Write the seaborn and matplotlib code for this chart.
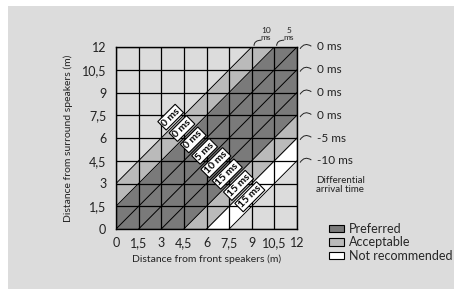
import numpy as np
import matplotlib
matplotlib.use("Agg")
import matplotlib.pyplot as plt
from matplotlib.patches import Rectangle, Patch, PathPatch
from matplotlib.path import Path
import seaborn as sns

# Grid positions (m) and tick labels (comma decimals)
ticks = [0, 1.5, 3, 4.5, 6, 7.5, 9, 10.5, 12]
tick_labels = ["0", "1,5", "3", "4,5", "6", "7,5", "9", "10,5", "12"]

# Diagonal bands: offset (surround - front, m) ranges
band_names = ["Not recommended", "Acceptable", "Preferred", "Acceptable"]
band_low = [-7.5, -6.0, -4.5, 1.5]
band_high = [-6.0, -4.5, 1.5, 3.0]

# Diagonal lines drawn inside the shaded area (offset in m)
diag_offsets = [-7.5, -6.0, -4.5, -3.0, -1.5, 0.0, 1.5, 3.0]

# Boxed delay labels along the diagonals (strip centre offset in cells)
inner_labels = ["0 ms", "0 ms", "0 ms", "5 ms", "10 ms", "15 ms", "15 ms", "15 ms"]
inner_strip = [2.5, 1.5, 0.5, -0.5, -1.5, -2.5, -3.5, -4.5]

# Right-hand differential arrival labels at these y rows
right_labels = ["0 ms", "0 ms", "0 ms", "0 ms", "-5 ms", "-10 ms"]
right_rows = [12, 10.5, 9, 7.5, 6, 4.5]

# Top labels at these x columns
top_labels = ["10\nms", "5\nms"]
top_cols = [9, 10.5]

colors = {"Preferred": "#7a7a7a", "Acceptable": "#bababa", "Not recommended": "#ffffff"}
panel_bg = "#dcdcdc"

sns.set_theme(style="white")
plt.rcParams["font.family"] = ["Lato", "DejaVu Sans"]

fig = plt.figure(figsize=(4.59, 2.90), dpi=100)
fig.patch.set_facecolor("white")
fig.add_artist(Rectangle((8 / 459, 1 / 290), 446 / 459, 283 / 290,
                         transform=fig.transFigure, facecolor=panel_bg,
                         edgecolor="none", zorder=0))

ax = fig.add_axes([116 / 459, 61 / 290, 181 / 459, 182 / 290])
ax.set_facecolor(panel_bg)

# Bands
xs = np.array([-2.0, 14.0])
for name, lo, hi in zip(band_names, band_low, band_high):
    ax.fill_between(xs, xs + lo, xs + hi, color=colors[name], lw=0, zorder=1)

# Diagonal lines
for off in diag_offsets:
    ax.axline((0, off), slope=1, color="black", lw=0.7, zorder=2)

ax.set_xlim(0, 12)
ax.set_ylim(0, 12)
ax.set_xticks(ticks)
ax.set_yticks(ticks)
ax.set_xticklabels(tick_labels, fontsize=9)
ax.set_yticklabels(tick_labels, fontsize=9)
ax.tick_params(axis="both", length=0, colors="#222222")
ax.tick_params(axis="x", pad=6)
ax.tick_params(axis="y", pad=7)
ax.grid(True, color="black", lw=0.9)
ax.set_axisbelow(False)
for sp in ax.spines.values():
    sp.set_visible(True)
    sp.set_color("black")
    sp.set_linewidth(1.0)

ax.set_xlabel("Distance from front speakers (m)", fontsize=7.5, labelpad=4, color="#222222")
ax.set_ylabel("Distance from surround speakers (m)", fontsize=7.5, labelpad=6, color="#222222")

# Boxed labels
s = 5.5
for txt, k in zip(inner_labels, inner_strip):
    d = k * 1.5
    ax.text(s - d / 2, s + d / 2, txt, rotation=45, rotation_mode="anchor",
            ha="center", va="center", fontsize=7.5, fontweight="bold", color="black",
            bbox=dict(boxstyle="square,pad=0.14", fc="white", ec="black", lw=0.8),
            zorder=4)

# Right labels with small arcs
for txt, yv in zip(right_labels, right_rows):
    verts = [(12.2, yv - 0.12), (12.5, yv + 0.35), (12.95, yv + 0.05)]
    ax.add_patch(PathPatch(Path(verts, [Path.MOVETO, Path.CURVE3, Path.CURVE3]),
                           fc="none", ec="#222222", lw=0.7, clip_on=False))
    ax.text(13.3, yv, txt, ha="left", va="center", fontsize=8.5,
            color="#222222", clip_on=False)

ax.text(13.25, 2.9, "Differential\narrival time", ha="left", va="center",
        fontsize=7, color="#222222", linespacing=1.0)

# Top labels with small arcs
for txt, xv in zip(top_labels, top_cols):
    verts = [(xv + 0.15, 12.08), (xv + 0.15, 12.45), (xv + 0.65, 12.45)]
    ax.add_patch(PathPatch(Path(verts, [Path.MOVETO, Path.CURVE3, Path.CURVE3]),
                           fc="none", ec="#222222", lw=0.7, clip_on=False))
    ax.text(xv + 0.95, 12.85, txt, ha="center", va="center", fontsize=6,
            color="#222222", linespacing=0.9)

# Legend
handles = [Patch(facecolor=colors[n], edgecolor="black", lw=0.8, label=n)
           for n in ["Preferred", "Acceptable", "Not recommended"]]
fig.legend(handles=handles, loc="upper left", bbox_to_anchor=(329 / 459, 1 - 223 / 290),
           frameon=False, fontsize=9, handlelength=1.2, handleheight=0.55,
           handletextpad=0.4, labelspacing=0.12, borderaxespad=0, borderpad=0)

fig.savefig("out.png", dpi=100)
